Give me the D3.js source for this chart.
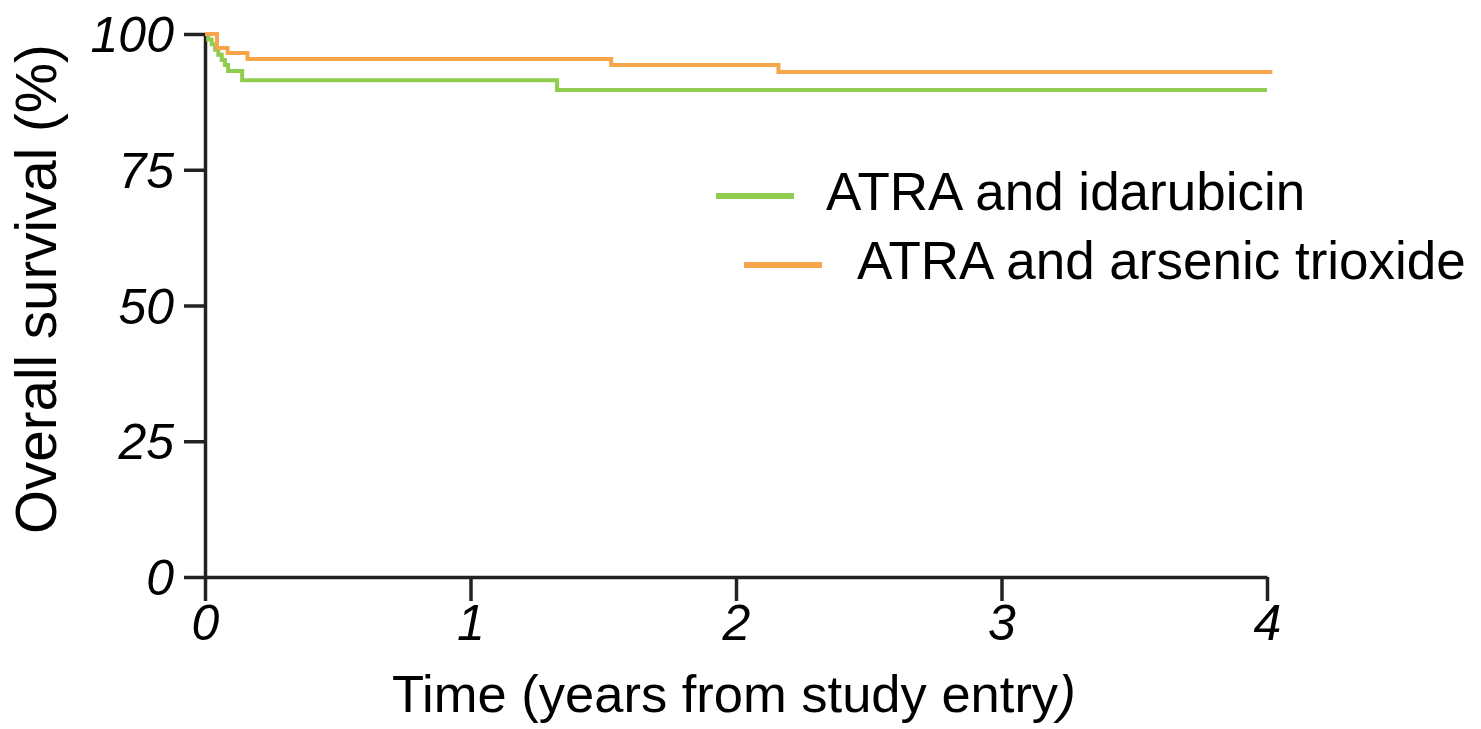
<!DOCTYPE html>
<html>
<head>
<meta charset="utf-8">
<script src="https://cdn.jsdelivr.net/npm/d3@7"></script>
<style>
  html, body { margin: 0; padding: 0; background: #fff; }
  svg { display: block; }
  text { font-family: "Liberation Sans", Arial, Helvetica, sans-serif; fill: #000; }
</style>
</head>
<body>
<svg id="chart" width="1481" height="729"></svg>
<script>
// Kaplan–Meier overall survival, step points (time in years, survival in %)
const idaTime = [0, 0.012, 0.025, 0.038, 0.05, 0.063, 0.075, 0.087, 0.14, 1.326, 4.0];
const idaSurv = [100, 99.0, 98.1, 97.1, 96.2, 95.2, 94.3, 93.2, 91.5, 89.7, 89.7];
const atoTime = [0, 0.045, 0.085, 0.16, 1.53, 2.16, 4.02];
const atoSurv = [100, 97.4, 96.5, 95.4, 94.3, 93.0, 93.0];

const seriesNames = ["ATRA and idarubicin", "ATRA and arsenic trioxide"];
const seriesColors = ["#8fcd4f", "#f6a54b"];

const xTicks = [0, 1, 2, 3, 4];
const yTicks = [0, 25, 50, 75, 100];

const svg = d3.select("#chart");
const x = d3.scaleLinear().domain([0, 4]).range([205, 1267]);
const y = d3.scaleLinear().domain([0, 100]).range([577, 34]);

// axes
const axisColor = "#222";
const yAxis = svg.append("g")
  .attr("transform", `translate(${x(0)},0)`)
  .call(d3.axisLeft(y).tickValues(yTicks).tickFormat(d3.format("d"))
    .tickSize(21).tickSizeOuter(0).tickPadding(10));
const xAxis = svg.append("g")
  .attr("transform", `translate(0,${y(0)})`)
  .call(d3.axisBottom(x).tickValues(xTicks).tickFormat(d3.format("d"))
    .tickSize(24).tickSizeOuter(0).tickPadding(2));

[yAxis, xAxis].forEach(g => {
  g.select(".domain").attr("stroke", axisColor).attr("stroke-width", 3.5);
  g.selectAll(".tick line").attr("stroke", axisColor).attr("stroke-width", 3.5);
  g.selectAll(".tick text")
    .attr("fill", "#000")
    .style("font-family", '"Liberation Sans", Arial, sans-serif')
    .style("font-style", "italic")
    .style("font-size", "50px");
});
yAxis.selectAll(".tick text").attr("dy", "0.35em");
xAxis.selectAll(".tick text").attr("dy", "0.74em");

// survival curves
const line = d3.line()
  .x(d => x(d[0]))
  .y(d => y(d[1]))
  .curve(d3.curveStepAfter);

const series = [
  d3.zip(idaTime, idaSurv),
  d3.zip(atoTime, atoSurv)
];

svg.append("g").selectAll("path.curve")
  .data(series)
  .join("path")
  .attr("class", "curve")
  .attr("d", line)
  .attr("fill", "none")
  .attr("stroke", (d, i) => seriesColors[i])
  .attr("stroke-width", 4);

// legend
const legendRows = [
  { x1: 716, x2: 794, ly: 196, tx: 826, ty: 210 },
  { x1: 744, x2: 822, ly: 265, tx: 857, ty: 279 }
];
const legend = svg.append("g");
legendRows.forEach((r, i) => {
  legend.append("line")
    .attr("x1", r.x1).attr("x2", r.x2)
    .attr("y1", r.ly).attr("y2", r.ly)
    .attr("stroke", seriesColors[i])
    .attr("stroke-width", 6);
  legend.append("text")
    .attr("x", r.tx).attr("y", r.ty)
    .style("font-size", "53px")
    .text(seriesNames[i]);
});

// axis titles
svg.append("text")
  .attr("transform", "translate(56,289) rotate(-90)")
  .attr("text-anchor", "middle")
  .style("font-size", "56.5px")
  .text("Overall survival (%)");

const xTitle = svg.append("text")
  .attr("x", 392)
  .attr("y", 712)
  .style("font-size", "52.5px");
xTitle.append("tspan").text("Time (years from study entry");
xTitle.append("tspan").style("font-style", "italic").text(")");
</script>
</body>
</html>
